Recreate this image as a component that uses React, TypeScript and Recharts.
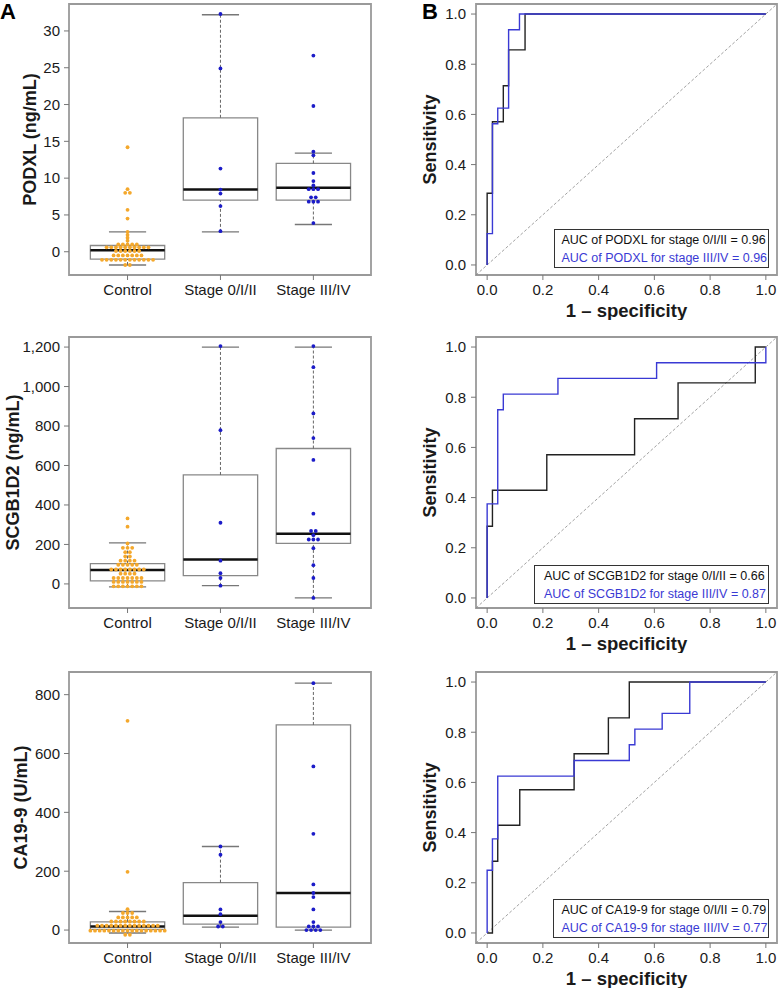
import React from "react";
import {
  ComposedChart,
  Scatter,
  Line,
  XAxis,
  YAxis,
  ReferenceArea,
  ReferenceLine,
} from "recharts";

// ─── Data ─────────────────────────────────────────────────────────────────────

const GROUPS = ["Control", "Stage 0/I/II", "Stage III/IV"];

// PODXL (ng/mL), beeswarm rows
const PODXL_CONTROL = [
  14.2, 8.5, 8.0, 8.0, 5.7, 4.5, 2.7, 2.3, 1.9, 1.5,
  1.0, 1.0, 1.0, 1.0, 1.0,
  0.6, 0.6, 0.6, 0.6, 0.6, 0.6, 0.6, 0.6, 0.6, 0.6,
  0.1, 0.1, 0.1, 0.1, 0.1, 0.1,
  -0.5, -0.5, -0.5, -0.5, -0.5, -0.5, -0.5,
  -1.1, -1.1, -1.1, -1.1, -1.1, -1.1, -1.1, -1.1, -1.1, -1.1, -1.1, -1.1,
  -1.8, -1.8,
];
const PODXL_EARLY = [32.3, 24.9, 11.3, 8.45, 7.9, 6.2, 2.8];
const PODXL_LATE = [
  26.65, 19.8, 13.6, 13.1, 10.7, 9.6, 9.0, 8.5, 8.5, 8.5, 7.4, 7.4, 6.8, 6.8, 6.8, 3.9,
];
// [lower whisker, Q1, median, Q3, upper whisker]
const PODXL_BOXES = [
  [-1.8, -1.0, 0.2, 0.85, 2.7],
  [2.7, 7.0, 8.45, 18.2, 32.2],
  [3.7, 7.0, 8.7, 12.0, 13.4],
];
const PODXL_TICKS = [0, 5, 10, 15, 20, 25, 30];
const PODXL_RANGE = [-3.16, 33.66];

// SCGB1D2 (ng/mL)
const SCGB_CONTROL = [
  332, 290, 205,
  183, 183, 183,
  161, 161,
  139, 139,
  118, 118, 118, 118,
  97, 97, 97, 97, 97,
  73, 73, 73, 73, 73, 73, 73, 73,
  52, 52, 52, 52,
  30, 30, 30, 30, 30, 30, 30,
  10, 10, 10, 10, 10, 10, 10,
  -12, -12, -12, -12, -12, -12, -12,
];
const SCGB_EARLY = [1205, 779, 310, 118, 54, 30, -9];
const SCGB_LATE = [
  1205, 1098, 864, 739, 628, 356, 268, 268, 247, 225, 225, 225, 181, 95, 30, -71,
];
const SCGB_BOXES = [
  [-15, 15, 71, 103, 208],
  [-9, 42, 124, 552, 1200],
  [-71, 205, 254, 686, 1200],
];
const SCGB_TICKS = [0, 200, 400, 600, 800, 1000, 1200];
const SCGB_RANGE = [-122, 1251];

// CA19-9 (U/mL)
const CA_CONTROL = [
  711, 198, 71,
  58, 58, 58,
  43, 43, 43, 43, 43,
  29, 29, 29, 29, 29, 29, 29, 29,
  15, 15, 15, 15, 15, 15, 15, 15, 15, 15, 15, 15, 15, 15,
  -2, -2, -2, -2, -2, -2, -2, -2, -2, -2, -2, -2, -2, -2, -2, -2, -2,
  -16, -16,
];
const CA_EARLY = [284, 256, 70, 54, 27, 12, 12];
const CA_LATE = [839, 556, 327, 155, 126, 112, 70, 27, 12, 12, 12, 0, 0, 0, 0];
const CA_BOXES = [
  [-10, 2, 12, 28, 63],
  [10, 20, 49, 161, 284],
  [0, 10, 126, 697, 839],
];
const CA_TICKS = [0, 200, 400, 600, 800];
const CA_RANGE = [-44, 877];

// ROC curves: (1 - specificity, sensitivity) corner points, drawn as steps
const PODXL_ROC_EARLY_X = [0, 0, 0.019, 0.058, 0.077, 0.136, 1];
const PODXL_ROC_EARLY_Y = [0, 0.286, 0.571, 0.714, 0.857, 1, 1];
const PODXL_ROC_LATE_X = [0, 0, 0.019, 0.038, 0.077, 0.116, 1];
const PODXL_ROC_LATE_Y = [0, 0.125, 0.5625, 0.625, 0.9375, 1, 1];

const SCGB_ROC_EARLY_X = [0, 0, 0.019, 0.214, 0.529, 0.685, 0.962, 1];
const SCGB_ROC_EARLY_Y = [0, 0.286, 0.429, 0.571, 0.714, 0.857, 1, 1];
const SCGB_ROC_LATE_X = [0, 0, 0.038, 0.058, 0.254, 0.608, 1];
const SCGB_ROC_LATE_Y = [0, 0.375, 0.75, 0.8125, 0.875, 0.9375, 1];

const CA_ROC_EARLY_X = [0, 0.019, 0.038, 0.117, 0.312, 0.435, 0.51, 1];
const CA_ROC_EARLY_Y = [0, 0.286, 0.429, 0.571, 0.714, 0.857, 1, 1];
const CA_ROC_LATE_X = [0, 0, 0.019, 0.038, 0.312, 0.51, 0.53, 0.628, 0.727, 1];
const CA_ROC_LATE_Y = [0, 0.25, 0.375, 0.625, 0.6875, 0.75, 0.8125, 0.875, 1, 1];

const ROC_TICKS = [0, 0.2, 0.4, 0.6, 0.8, 1.0];
const ROC_RANGE = [-0.04, 1.04];

// ─── Style ────────────────────────────────────────────────────────────────────

const FONT = "'Liberation Sans', Arial, sans-serif";
const ORANGE = "#F4A82C";
const DOT_BLUE = "#1C1CC8";
const ROC_BLUE = "#3A3AD4";
const INK = "#1a1a1a";
const FRAME = "#9a9a9a";
const TICK = "#777";
const BOX_X_RANGE = [0.37, 3.62];
const SWARM_STEP = 0.05;

const tickStyle = { fontSize: 15, fill: INK, fontFamily: FONT };

// centre-style beeswarm: points sharing a value are spread sideways
function swarm(values: number[], center: number) {
  const counts = new Map<number, number>();
  values.forEach((v) => counts.set(v, (counts.get(v) ?? 0) + 1));
  const seen = new Map<number, number>();
  return values.map((v) => {
    const n = counts.get(v) ?? 1;
    const i = seen.get(v) ?? 0;
    seen.set(v, i + 1);
    return { x: center + (i - (n - 1) / 2) * SWARM_STEP, y: v };
  });
}

function toPoints(xs: number[], ys: number[]) {
  return xs.map((x, i) => ({ x, y: ys[i] }));
}

const dot = (color: string) => (p: any) =>
  <circle cx={p.cx} cy={p.cy} r={1.9} fill={color} />;

function yTitle(text: string, dx: number) {
  return {
    content: (p: any) => {
      const vb = p.viewBox ?? { x: 0, y: 0, width: 0, height: 0 };
      const x = vb.x + dx;
      const y = vb.y + vb.height / 2;
      return (
        <text
          x={x}
          y={y}
          transform={`rotate(-90 ${x} ${y})`}
          textAnchor="middle"
          fontSize={18}
          fontWeight="bold"
          fontFamily={FONT}
          fill={INK}
        >
          {text}
        </text>
      );
    },
  };
}

function xTitle(text: string) {
  return {
    content: (p: any) => {
      const vb = p.viewBox ?? { x: 0, y: 0, width: 0, height: 0 };
      return (
        <text
          x={vb.x + vb.width / 2}
          y={vb.y + 42}
          textAnchor="middle"
          fontSize={18.5}
          fontWeight="bold"
          fontFamily={FONT}
          fill={INK}
        >
          {text}
        </text>
      );
    },
  };
}

// ─── Box plot panel ───────────────────────────────────────────────────────────

interface BoxPanelProps {
  top: number;
  title: string;
  titleX: number;
  control: number[];
  early: number[];
  late: number[];
  boxes: number[][];
  range: number[];
  ticks: number[];
}

function BoxPanel({ top, title, titleX, control, early, late, boxes, range, ticks }: BoxPanelProps) {
  const controlPts = swarm(control, 1);
  const stagePts = [...swarm(early, 2), ...swarm(late, 3)];

  return (
    <div style={{ position: "absolute", left: 0, top }}>
      <ComposedChart width={390} height={320} margin={{ top: 4, right: 19, bottom: 0, left: 0 }}>
        <XAxis
          type="number"
          dataKey="x"
          domain={BOX_X_RANGE}
          ticks={[1, 2, 3]}
          interval={0}
          allowDataOverflow
          tickFormatter={(v) => GROUPS[v - 1]}
          axisLine={false}
          tickLine={{ stroke: TICK }}
          tickSize={5}
          tickMargin={4}
          height={45}
          tick={tickStyle}
        />
        <YAxis
          type="number"
          dataKey="y"
          domain={range}
          ticks={ticks}
          interval={0}
          allowDataOverflow
          tickFormatter={(v) => v.toLocaleString("en-US")}
          axisLine={false}
          tickLine={{ stroke: TICK }}
          tickSize={5}
          tickMargin={4}
          width={69}
          tick={tickStyle}
          label={yTitle(title, titleX)}
        />
        <ReferenceArea
          x1={BOX_X_RANGE[0]}
          x2={BOX_X_RANGE[1]}
          y1={range[0]}
          y2={range[1]}
          fill="none"
          stroke={FRAME}
          strokeWidth={1.8}
          ifOverflow="visible"
        />
        <Scatter data={controlPts} shape={dot(ORANGE)} isAnimationActive={false} />
        <Scatter data={stagePts} shape={dot(DOT_BLUE)} isAnimationActive={false} />
        {boxes.map(([lo, q1, med, q3, hi], i) => {
          const c = i + 1;
          return (
            <React.Fragment key={`box-${i}`}>
              <ReferenceLine
                segment={[{ x: c, y: q3 }, { x: c, y: hi }]}
                stroke="#666"
                strokeDasharray="3 2"
                ifOverflow="visible"
              />
              <ReferenceLine
                segment={[{ x: c, y: lo }, { x: c, y: q1 }]}
                stroke="#666"
                strokeDasharray="3 2"
                ifOverflow="visible"
              />
              <ReferenceLine
                segment={[{ x: c - 0.2, y: hi }, { x: c + 0.2, y: hi }]}
                stroke="#777"
                strokeWidth={1.3}
                ifOverflow="visible"
              />
              <ReferenceLine
                segment={[{ x: c - 0.2, y: lo }, { x: c + 0.2, y: lo }]}
                stroke="#777"
                strokeWidth={1.3}
                ifOverflow="visible"
              />
              <ReferenceArea
                x1={c - 0.4}
                x2={c + 0.4}
                y1={q1}
                y2={q3}
                fill="none"
                stroke="#888"
                strokeWidth={1.3}
                ifOverflow="visible"
              />
              <ReferenceLine
                segment={[{ x: c - 0.4, y: med }, { x: c + 0.4, y: med }]}
                stroke="#111"
                strokeWidth={2.5}
                ifOverflow="visible"
              />
            </React.Fragment>
          );
        })}
      </ComposedChart>
    </div>
  );
}

// ─── ROC panel ────────────────────────────────────────────────────────────────

interface RocPanelProps {
  top: number;
  early: { x: number; y: number }[];
  late: { x: number; y: number }[];
  legend: string[];
  legendBox: { left: number; top: number; width: number; pad: number };
}

function RocPanel({ top, early, late, legend, legendBox }: RocPanelProps) {
  return (
    <div style={{ position: "absolute", left: 390, top }}>
      <ComposedChart width={388} height={320} margin={{ top: 4, right: 1, bottom: 0, left: 0 }}>
        <XAxis
          type="number"
          dataKey="x"
          domain={ROC_RANGE}
          ticks={ROC_TICKS}
          interval={0}
          allowDataOverflow
          tickFormatter={(v) => v.toFixed(1)}
          axisLine={false}
          tickLine={{ stroke: TICK }}
          tickSize={5}
          tickMargin={4}
          height={45}
          tick={tickStyle}
          label={xTitle("1 – specificity")}
        />
        <YAxis
          type="number"
          dataKey="y"
          domain={ROC_RANGE}
          ticks={ROC_TICKS}
          interval={0}
          allowDataOverflow
          tickFormatter={(v) => v.toFixed(1)}
          axisLine={false}
          tickLine={{ stroke: TICK }}
          tickSize={5}
          tickMargin={5}
          width={86}
          tick={tickStyle}
          label={yTitle("Sensitivity", 46)}
        />
        <ReferenceArea
          x1={ROC_RANGE[0]}
          x2={ROC_RANGE[1]}
          y1={ROC_RANGE[0]}
          y2={ROC_RANGE[1]}
          fill="none"
          stroke={FRAME}
          strokeWidth={1.8}
          ifOverflow="visible"
        />
        <ReferenceLine
          segment={[
            { x: ROC_RANGE[0], y: ROC_RANGE[0] },
            { x: ROC_RANGE[1], y: ROC_RANGE[1] },
          ]}
          stroke="#8a8a8a"
          strokeWidth={0.8}
          strokeDasharray="3 2"
          ifOverflow="visible"
        />
        <Line
          data={early}
          dataKey="y"
          type="stepAfter"
          stroke="#222"
          strokeWidth={1.4}
          dot={false}
          activeDot={false}
          isAnimationActive={false}
        />
        <Line
          data={late}
          dataKey="y"
          type="stepAfter"
          stroke={ROC_BLUE}
          strokeWidth={1.4}
          dot={false}
          activeDot={false}
          isAnimationActive={false}
        />
      </ComposedChart>
      <div
        style={{
          position: "absolute",
          left: legendBox.left - 390,
          top: legendBox.top - top,
          width: legendBox.width,
          height: 39,
          boxSizing: "border-box",
          border: "1px solid #333",
          background: "#fff",
          paddingTop: 2,
          paddingLeft: legendBox.pad,
          fontFamily: FONT,
          fontSize: 12.5,
          lineHeight: "17.5px",
          whiteSpace: "nowrap",
        }}
      >
        <div style={{ color: "#111" }}>{legend[0]}</div>
        <div style={{ color: ROC_BLUE }}>{legend[1]}</div>
      </div>
    </div>
  );
}

// ─── Figure ───────────────────────────────────────────────────────────────────

const letterStyle: React.CSSProperties = {
  position: "absolute",
  top: 1,
  fontFamily: FONT,
  fontWeight: "bold",
  fontSize: 22,
  lineHeight: "22px",
  color: "#000",
};

export default function App() {
  return (
    <div
      style={{
        position: "absolute",
        left: 0,
        top: 0,
        width: 778,
        height: 990,
        background: "#fff",
        overflow: "hidden",
      }}
    >
      <BoxPanel
        top={0}
        title="PODXL (ng/mL)"
        titleX={36}
        control={PODXL_CONTROL}
        early={PODXL_EARLY}
        late={PODXL_LATE}
        boxes={PODXL_BOXES}
        range={PODXL_RANGE}
        ticks={PODXL_TICKS}
      />
      <BoxPanel
        top={333}
        title="SCGB1D2 (ng/mL)"
        titleX={18.5}
        control={SCGB_CONTROL}
        early={SCGB_EARLY}
        late={SCGB_LATE}
        boxes={SCGB_BOXES}
        range={SCGB_RANGE}
        ticks={SCGB_TICKS}
      />
      <BoxPanel
        top={668}
        title="CA19-9 (U/mL)"
        titleX={26.5}
        control={CA_CONTROL}
        early={CA_EARLY}
        late={CA_LATE}
        boxes={CA_BOXES}
        range={CA_RANGE}
        ticks={CA_TICKS}
      />
      <RocPanel
        top={0}
        early={toPoints(PODXL_ROC_EARLY_X, PODXL_ROC_EARLY_Y)}
        late={toPoints(PODXL_ROC_LATE_X, PODXL_ROC_LATE_Y)}
        legend={[
          "AUC of PODXL for stage 0/I/II = 0.96",
          "AUC of PODXL for stage III/IV = 0.96",
        ]}
        legendBox={{ left: 554, top: 229, width: 215, pad: 6.5 }}
      />
      <RocPanel
        top={333}
        early={toPoints(SCGB_ROC_EARLY_X, SCGB_ROC_EARLY_Y)}
        late={toPoints(SCGB_ROC_LATE_X, SCGB_ROC_LATE_Y)}
        legend={[
          "AUC of SCGB1D2 for stage 0/I/II = 0.66",
          "AUC of SCGB1D2 for stage III/IV = 0.87",
        ]}
        legendBox={{ left: 534, top: 565, width: 235, pad: 9 }}
      />
      <RocPanel
        top={668}
        early={toPoints(CA_ROC_EARLY_X, CA_ROC_EARLY_Y)}
        late={toPoints(CA_ROC_LATE_X, CA_ROC_LATE_Y)}
        legend={[
          "AUC of CA19-9 for stage 0/I/II = 0.79",
          "AUC of CA19-9 for stage III/IV = 0.77",
        ]}
        legendBox={{ left: 553, top: 899, width: 216, pad: 7.5 }}
      />
      <div style={{ ...letterStyle, left: 0 }}>A</div>
      <div style={{ ...letterStyle, left: 422 }}>B</div>
    </div>
  );
}
